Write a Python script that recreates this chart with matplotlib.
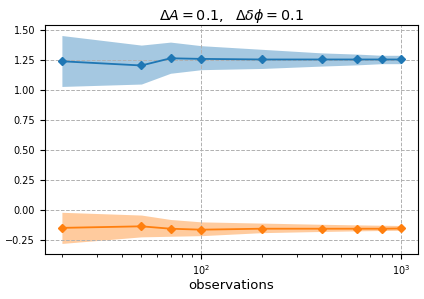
import numpy as np
import matplotlib
matplotlib.use('Agg')
import matplotlib.pyplot as plt

observations = [20, 50, 70, 100, 200, 400, 600, 800, 1000]

amp_mean = [1.24, 1.205, 1.265, 1.26, 1.255, 1.255, 1.255, 1.255, 1.255]
amp_upper = [1.455, 1.375, 1.40, 1.37, 1.34, 1.31, 1.30, 1.29, 1.29]
amp_lower = [1.03, 1.05, 1.14, 1.17, 1.18, 1.20, 1.21, 1.22, 1.22]

phase_mean = [-0.15, -0.137, -0.157, -0.165, -0.157, -0.157, -0.157, -0.157, -0.155]
phase_upper = [-0.02, -0.043, -0.08, -0.10, -0.11, -0.12, -0.125, -0.128, -0.13]
phase_lower = [-0.28, -0.225, -0.22, -0.215, -0.19, -0.18, -0.175, -0.172, -0.17]

fig = plt.figure(figsize=(4.24, 2.99), dpi=100)
ax = fig.add_axes([0.106, 0.151, 0.880, 0.765])

ax.fill_between(observations, amp_lower, amp_upper, color='C0', alpha=0.4, linewidth=0)
ax.plot(observations, amp_mean, 'D-', color='C0', markersize=4.5, linewidth=1.3)
ax.fill_between(observations, phase_lower, phase_upper, color='C1', alpha=0.4, linewidth=0)
ax.plot(observations, phase_mean, 'D-', color='C1', markersize=4.5, linewidth=1.3)

ax.set_xscale('log')
ax.set_yticks([-0.25, 0.0, 0.25, 0.5, 0.75, 1.0, 1.25, 1.5])
ax.grid(True, which='major', linestyle='--', color='#b0b0b0', linewidth=0.7)
ax.tick_params(labelsize=7)
ax.set_xlabel('observations', fontsize=9.5, labelpad=1)
ax.set_title(r'$\Delta A = 0.1,\ \ \Delta\delta\phi = 0.1$', fontsize=10.3, pad=3)

fig.savefig('out.png', dpi=100)
